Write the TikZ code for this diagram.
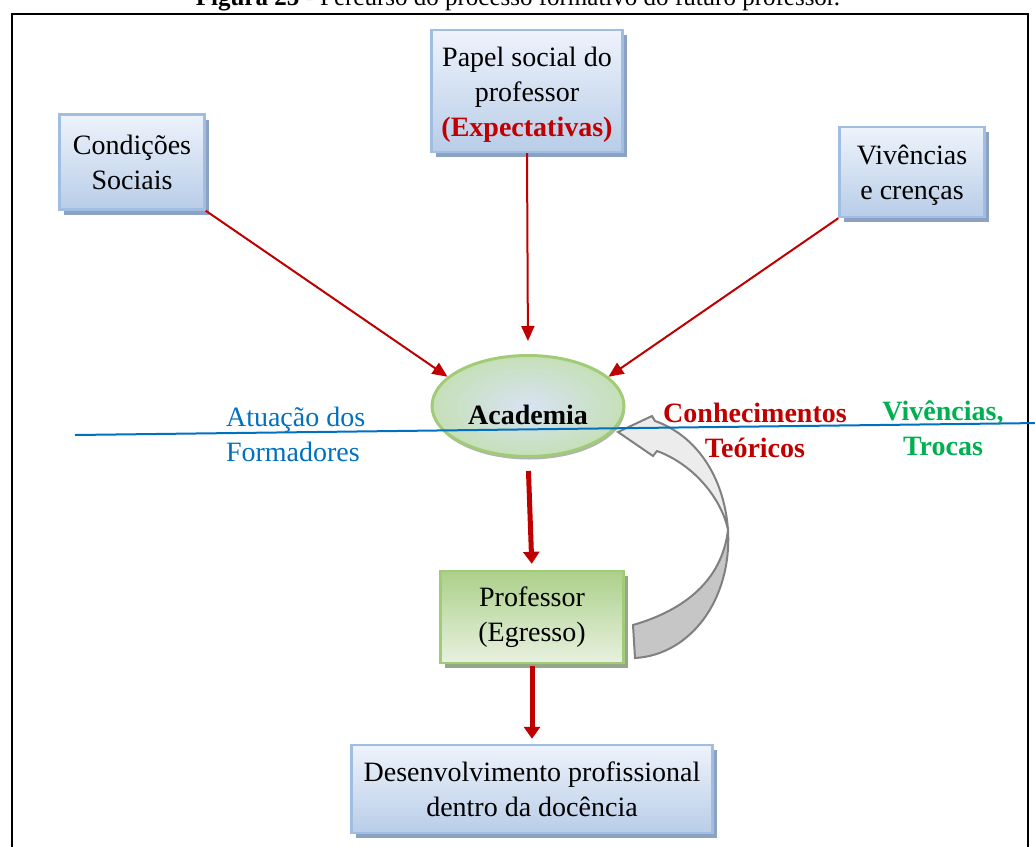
\documentclass[tikz,border=0pt]{standalone}
\usepackage{fontspec}
\setmainfont{Liberation Serif}
\usetikzlibrary{arrows.meta,shadows,shapes.geometric}
\definecolor{darkred}{RGB}{192,0,0}
\definecolor{lineblue}{RGB}{0,112,192}
\definecolor{labelgreen}{RGB}{0,176,80}
\definecolor{boxtop}{RGB}{238,243,251}
\definecolor{boxbottom}{RGB}{184,205,232}
\definecolor{boxline}{RGB}{160,190,225}
\definecolor{boxshadow}{RGB}{140,162,196}
\definecolor{greentop}{RGB}{172,208,138}
\definecolor{greenbottom}{RGB}{232,241,224}
\definecolor{greenline}{RGB}{160,204,120}
\definecolor{greenshadow}{RGB}{150,166,136}
\definecolor{arrowgray}{RGB}{128,128,128}
\newcommand{\lowtext}[2]{\raisebox{-#1}[0pt][0pt]{\begin{tabular}{@{}c@{}}#2\end{tabular}}}
\tikzset{
  bluebox/.style={draw=boxline, line width=1.2pt, top color=boxtop, bottom color=boxbottom,
    align=center, inner sep=0pt,
    drop shadow={shadow xshift=2pt, shadow yshift=-2.5pt, fill=boxshadow, opacity=1}},
  greenbox/.style={bluebox, draw=greenline, top color=greentop, bottom color=greenbottom,
    drop shadow={shadow xshift=2pt, shadow yshift=-2.5pt, fill=greenshadow, opacity=1}},
  thinarrow/.style={darkred, line width=1pt, -{Triangle[length=7.5pt,width=6.5pt]}},
  thickarrow/.style={darkred, line width=2.5pt, -{Triangle[length=6pt,width=8pt]}},
}
\begin{document}
\begin{tikzpicture}[x=0.5pt,y=-0.5pt,font=\fontsize{14}{17.5}\selectfont]
  \useasboundingbox (0,0) rectangle (1035,847);
  \node[anchor=base,font=\fontsize{12.5}{15}\selectfont] (caption) at (518,5)
    {\textbf{Figura 25} - Percurso do processo formativo do futuro professor.};
  \draw[line width=1pt] (12,14) rectangle (1028,880);
  % boxes
  \node[bluebox,minimum width=72.5pt,minimum height=47.5pt] (cond) at (132,162) {Condições\\Sociais};
  \node[bluebox,minimum width=95.5pt,minimum height=61pt] (papel) at (527,91)
    {\lowtext{5.5pt}{Papel social do\\professor\\\textcolor{darkred}{\textbf{(Expectativas)}}}};
  \node[bluebox,minimum width=72.5pt,minimum height=45pt] (viv) at (912,172)
    {\lowtext{5pt}{Vivências\\e crenças}};
  \node[ellipse,draw=greenline,line width=1.5pt,inner color={rgb,255:red,216;green,226;blue,243},
    outer color={rgb,255:red,198;green,224;blue,184},minimum width=96pt,minimum height=50.5pt,
    inner sep=0pt,drop shadow={shadow xshift=0.5pt,shadow yshift=-1.5pt,fill=gray!60,opacity=1}]
    (acad) at (528,406) {\raisebox{-9pt}[0pt][0pt]{\textbf{Academia}}};
  \node[greenbox,minimum width=91.5pt,minimum height=46pt] (prof) at (532,617) {Professor\\(Egresso)};
  \node[bluebox,minimum width=180.5pt,minimum height=44pt] (desenv) at (532,789)
    {Desenvolvimento profissional\\dentro da docência};
  % arrows
  \foreach \from/\to in {cond.south east/acad.160, viv.south west/acad.20}
    \draw[thinarrow] (\from) -- (\to);
  \draw[thinarrow,shorten >=6.5pt] (papel.south) -- (acad.north);
  \draw[thickarrow,shorten <=6.5pt,shorten >=3pt] (acad.south) -- (prof.north);
  \draw[thickarrow,shorten <=1pt,shorten >=2.5pt] (prof.south) -- (desenv.north);
  % curved return arrow
  \draw[arrowgray,line width=1pt,fill=gray!15] (618,432) -- (652,416) -- (655,421)
    .. controls (695,435) and (724,475) .. (728,530)
    .. controls (722,500) and (695,465) .. (657,451) -- (653,456) -- cycle;
  \draw[arrowgray,line width=1pt,fill=gray!45] (728,530)
    .. controls (732,600) and (690,655) .. (635,658) -- (633,625)
    .. controls (685,610) and (722,580) .. (728,530) -- cycle;
  % line and labels
  \draw[lineblue,line width=1pt] (75,435) -- (1040,423);
  \node[lineblue,align=left,anchor=west] (atua) at (219,434) {Atuação dos\\Formadores};
  \node[darkred,align=center,font=\fontsize{14}{17.5}\selectfont\bfseries] (conh) at (755,430)
    {Conhecimentos\\Teóricos};
  \node[labelgreen,align=center,font=\fontsize{14}{17.5}\selectfont\bfseries] (troc) at (943,428)
    {Vivências,\\Trocas};
\end{tikzpicture}
\end{document}
